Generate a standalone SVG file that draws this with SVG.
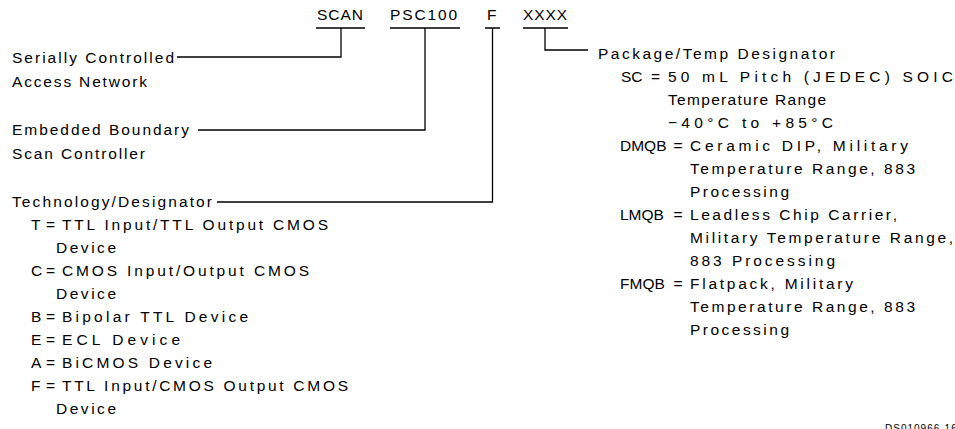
<svg xmlns="http://www.w3.org/2000/svg" width="955" height="429" viewBox="0 0 955 429">
<style>
text{font-family:"Liberation Sans",Arial,sans-serif;font-size:15.5px;fill:#000}
.ln{fill:none;stroke:#000;stroke-width:1.3}
.code{font-size:10px;letter-spacing:1px}
</style>
<rect width="955" height="429" fill="#fff"/>
<g id="part-number">
<text x="317" y="20" textLength="46" lengthAdjust="spacing">SCAN</text>
<text x="390" y="20" textLength="67" lengthAdjust="spacing">PSC100</text>
<text x="487" y="20">F</text>
<text x="523" y="20" textLength="44" lengthAdjust="spacing">XXXX</text>
</g>
<g id="connectors" class="ln">
<path d="M316,28H365M390,28H460M485,28H500M523,28H568"/>
<path d="M341,28V57H177"/>
<path d="M425,28V130H198"/>
<path d="M492.5,28V202H217"/>
<path d="M545,28V50H588"/>
</g>
<g id="scan-label">
<text x="12" y="63" textLength="162" lengthAdjust="spacing">Serially Controlled</text>
<text x="12" y="87" textLength="135" lengthAdjust="spacing">Access Network</text>
</g>
<g id="psc-label">
<text x="12" y="135" textLength="177" lengthAdjust="spacing">Embedded Boundary</text>
<text x="12" y="159" textLength="133" lengthAdjust="spacing">Scan Controller</text>
</g>
<g id="tech-label">
<text x="12" y="207" textLength="200" lengthAdjust="spacing">Technology/Designator</text>
<text x="31" y="230">T</text><text x="46" y="230">=</text><text x="62" y="230" textLength="266" lengthAdjust="spacing">TTL Input/TTL Output CMOS</text>
<text x="56" y="253" textLength="60" lengthAdjust="spacing">Device</text>
<text x="31" y="276">C</text><text x="46" y="276">=</text><text x="62" y="276" textLength="247" lengthAdjust="spacing">CMOS Input/Output CMOS</text>
<text x="56" y="299" textLength="60" lengthAdjust="spacing">Device</text>
<text x="31" y="322">B</text><text x="46" y="322">=</text><text x="62" y="322" textLength="186" lengthAdjust="spacing">Bipolar TTL Device</text>
<text x="31" y="345">E</text><text x="46" y="345">=</text><text x="62" y="345" textLength="118" lengthAdjust="spacing">ECL Device</text>
<text x="31" y="368">A</text><text x="46" y="368">=</text><text x="62" y="368" textLength="150" lengthAdjust="spacing">BiCMOS Device</text>
<text x="31" y="391">F</text><text x="46" y="391">=</text><text x="62" y="391" textLength="286" lengthAdjust="spacing">TTL Input/CMOS Output CMOS</text>
<text x="56" y="414" textLength="60" lengthAdjust="spacing">Device</text>
</g>
<g id="package-label">
<text x="598" y="59" textLength="237" lengthAdjust="spacing">Package/Temp Designator</text>
<text x="621" y="82">SC</text><text x="651" y="82">=</text><text x="668" y="82" textLength="285" lengthAdjust="spacing">50 mL Pitch (JEDEC) SOIC</text>
<text x="668" y="105" textLength="158" lengthAdjust="spacing">Temperature Range</text>
<text x="668" y="128" textLength="165" lengthAdjust="spacing">−40°C to +85°C</text>
<text x="620" y="151">DMQB</text><text x="673.5" y="151">=</text><text x="690" y="151" textLength="218" lengthAdjust="spacing">Ceramic DIP, Military</text>
<text x="690" y="174" textLength="225" lengthAdjust="spacing">Temperature Range, 883</text>
<text x="690" y="197" textLength="99" lengthAdjust="spacing">Processing</text>
<text x="620" y="220">LMQB</text><text x="673.5" y="220">=</text><text x="690" y="220" textLength="207" lengthAdjust="spacing">Leadless Chip Carrier,</text>
<text x="690" y="243" textLength="263" lengthAdjust="spacing">Military Temperature Range,</text>
<text x="690" y="266" textLength="145" lengthAdjust="spacing">883 Processing</text>
<text x="620" y="289">FMQB</text><text x="673.5" y="289">=</text><text x="690" y="289" textLength="163" lengthAdjust="spacing">Flatpack, Military</text>
<text x="690" y="312" textLength="225" lengthAdjust="spacing">Temperature Range, 883</text>
<text x="690" y="335" textLength="99" lengthAdjust="spacing">Processing</text>
</g>
<text class="code" x="885" y="432">DS010966-16</text>
</svg>
